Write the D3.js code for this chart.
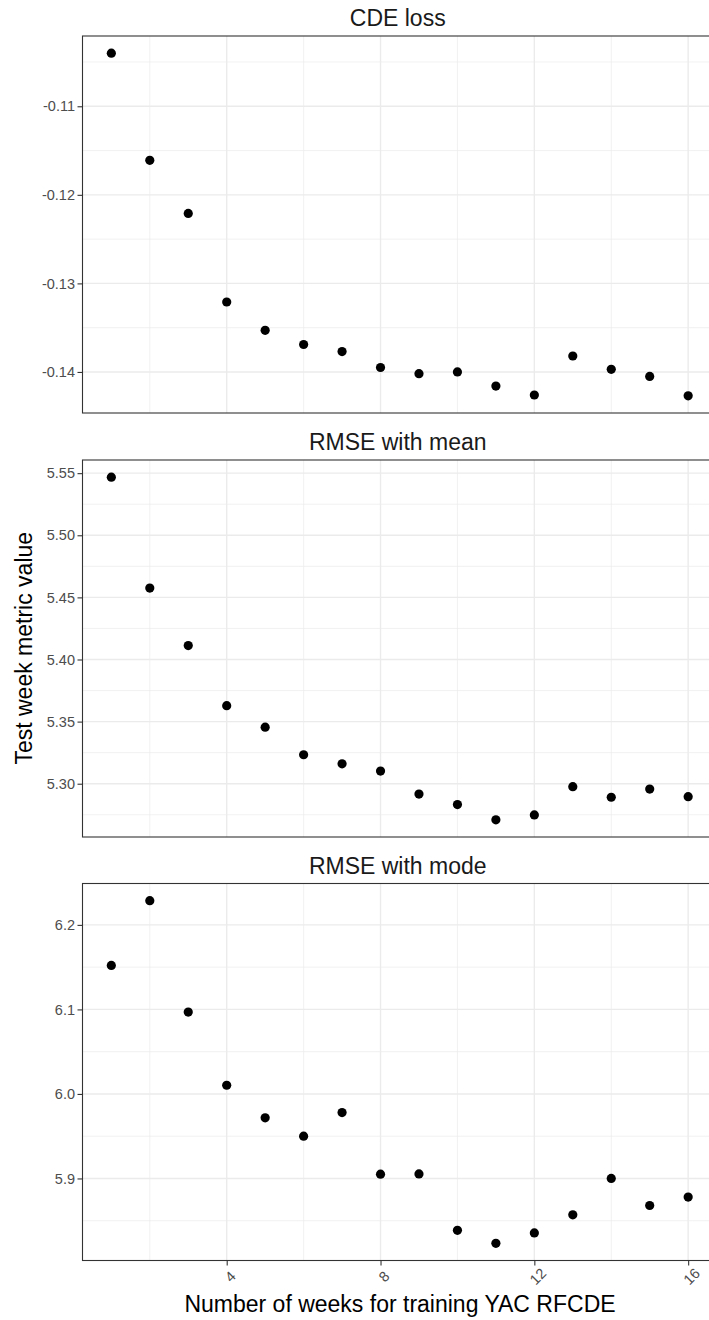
<!DOCTYPE html>
<head>
  <meta charset="utf-8">
  <script src="https://d3js.org/d3.v7.min.js"></script>
  <style>
    body { margin: 0; background: #fff; }
    text { font-family: "Liberation Sans", Arial, sans-serif; }
  </style>
</head>
<body>
  <svg width="709" height="1320"></svg>
  <script>
    // data
    const weeks = [1, 2, 3, 4, 5, 6, 7, 8, 9, 10, 11, 12, 13, 14, 15, 16];
    const cdeLoss = [-0.1040, -0.1161, -0.1221, -0.1321, -0.1353, -0.1369, -0.1377, -0.1395,
                     -0.1402, -0.1400, -0.1416, -0.1426, -0.1382, -0.1397, -0.1405, -0.1427];
    const rmseMean = [5.5468, 5.4575, 5.4112, 5.3628, 5.3455, 5.3233, 5.3160, 5.3102,
                      5.2917, 5.2832, 5.2709, 5.2749, 5.2976, 5.2891, 5.2957, 5.2896];
    const rmseMode = [6.1520, 6.2287, 6.0968, 6.0103, 5.9717, 5.9500, 5.9780, 5.9051,
                      5.9054, 5.8386, 5.8232, 5.8355, 5.8570, 5.9000, 5.8680, 5.8780];

    const panelTitles = ['CDE loss', 'RMSE with mean', 'RMSE with mode'];
    const cdeTicks = [-0.14, -0.13, -0.12, -0.11];
    const meanTicks = [5.30, 5.35, 5.40, 5.45, 5.50, 5.55];
    const modeTicks = [5.9, 6.0, 6.1, 6.2];
    const xTicks = [4, 8, 12, 16];

    // plain hyphen for negatives, like R prints them
    const fmt = spec => { const f = d3.format(spec); return d => f(d).replace('\u2212', '-'); };

    const panels = [
      { title: panelTitles[0], values: cdeLoss, ticks: cdeTicks, fmt: fmt('.2f') },
      { title: panelTitles[1], values: rmseMean, ticks: meanTicks, fmt: fmt('.2f') },
      { title: panelTitles[2], values: rmseMode, ticks: modeTicks, fmt: fmt('.1f') },
    ];

    const svg = d3.select('svg');
    const left = 82.5, right = 717;   // right edge runs off the canvas, as in the reference
    const tops = [36, 460, 883.5];
    const panelH = 377;

    // ggplot-style 5% expansion
    const expand = (lo, hi) => { const p = (hi - lo) * 0.05; return [lo - p, hi + p]; };
    const minorOf = (ticks, dom) => {
      const step = ticks[1] - ticks[0];
      const out = [];
      for (let i = -1; i < ticks.length; i++) out.push(ticks[0] + step * (i + 0.5));
      return out.filter(v => v >= Math.min(...dom) && v <= Math.max(...dom));
    };

    const xDom = expand(d3.min(weeks), d3.max(weeks));
    const x = d3.scaleLinear().domain(xDom).range([left, right]);
    const xMinor = minorOf(xTicks, xDom);

    panels.forEach((p, i) => {
      const top = tops[i], bottom = top + panelH;
      const yDom = expand(d3.min(p.values), d3.max(p.values));
      const y = d3.scaleLinear().domain(yDom).range([bottom, top]);
      const g = svg.append('g');

      // grid
      g.selectAll('.ymin').data(minorOf(p.ticks, yDom)).join('line')
        .attr('x1', left).attr('x2', right).attr('y1', y).attr('y2', y)
        .attr('stroke', '#ebebeb').attr('stroke-width', 0.7);
      g.selectAll('.xmin').data(xMinor).join('line')
        .attr('x1', x).attr('x2', x).attr('y1', top).attr('y2', bottom)
        .attr('stroke', '#ebebeb').attr('stroke-width', 0.7);
      g.selectAll('.ymaj').data(p.ticks).join('line')
        .attr('x1', left).attr('x2', right).attr('y1', y).attr('y2', y)
        .attr('stroke', '#ebebeb').attr('stroke-width', 1.4);
      g.selectAll('.xmaj').data(xTicks).join('line')
        .attr('x1', x).attr('x2', x).attr('y1', top).attr('y2', bottom)
        .attr('stroke', '#ebebeb').attr('stroke-width', 1.4);

      // points
      g.selectAll('circle').data(weeks).join('circle')
        .attr('cx', d => x(d))
        .attr('cy', (d, j) => y(p.values[j]))
        .attr('r', 4.6)
        .attr('fill', '#000');

      // border
      g.append('rect')
        .attr('x', left).attr('y', top).attr('width', right - left).attr('height', panelH)
        .attr('fill', 'none').attr('stroke', '#333').attr('stroke-width', 1.1);

      // y axis
      const ya = g.append('g').attr('transform', `translate(${left},0)`)
        .call(d3.axisLeft(y).tickValues(p.ticks).tickFormat(p.fmt).tickSize(5).tickPadding(2.5));
      ya.select('.domain').remove();
      ya.selectAll('line').attr('stroke', '#333').attr('stroke-width', 1.1);
      ya.selectAll('text').attr('fill', '#4d4d4d').style('font-size', '14.5px');

      // strip title
      svg.append('text')
        .attr('x', (left + right) / 2 - 2).attr('y', top - 10)
        .attr('text-anchor', 'middle').attr('fill', '#1a1a1a')
        .style('font-size', '23px').text(p.title);

      // x axis on last panel
      if (i === panels.length - 1) {
        const xa = g.append('g').attr('transform', `translate(0,${bottom})`)
          .call(d3.axisBottom(x).tickValues(xTicks).tickSize(5));
        xa.select('.domain').remove();
        xa.selectAll('line').attr('stroke', '#333').attr('stroke-width', 1.1);
        xa.selectAll('text')
          .attr('y', 0).attr('dy', '0.35em')
          .attr('text-anchor', 'middle')
          .attr('transform', 'translate(3,16) rotate(-45)')
          .attr('fill', '#4d4d4d').style('font-size', '14.5px');
      }
    });

    // axis titles
    svg.append('text')
      .attr('x', 400).attr('y', 1312)
      .attr('text-anchor', 'middle').attr('fill', '#000')
      .style('font-size', '23px')
      .text('Number of weeks for training YAC RFCDE');

    svg.append('text')
      .attr('transform', `translate(32,${(tops[0] + tops[2] + panelH) / 2}) rotate(-90)`)
      .attr('text-anchor', 'middle').attr('fill', '#000')
      .style('font-size', '23px')
      .text('Test week metric value');
  </script>
</body>
